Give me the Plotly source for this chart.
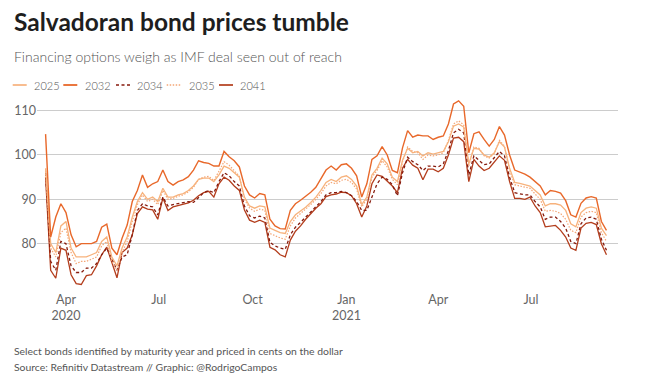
import plotly.graph_objects as go
import pandas as pd

# ---- data (cents on the dollar), sampled every 5 days from 2020-03-12 ----
start_date = "2020-03-12"
step = "5D"

b2032 = [104.7, 81.5, 86, 89, 87, 82, 79.3, 80, 80, 80, 80.5, 83.7, 84.4, 79, 77.5, 81.2, 84.2, 89.5, 92, 95.5,
         92.7, 93.5, 94, 96.6, 94, 93.2, 94, 94.4, 95.1, 96.6, 98.7, 98.3, 98.1, 97.5, 97.5, 100.8, 99.6, 98.7, 97.3, 93,
         91, 90.3, 91.3, 91, 85.5, 84, 83.4, 83.3, 87.5, 89, 89.8, 90.6, 91.6, 92.7, 94.5, 96.6, 97.5, 96.6, 97.8, 98,
         97, 95.3, 90.5, 93.5, 99, 99.8, 101.9, 100, 96.5, 96, 101.6, 105.5, 104, 104.5, 104.3, 104.3, 103.5, 104, 104.3, 107,
         111.5, 112.2, 111, 100.5, 104.8, 105.2, 103.5, 102, 103.5, 106.4, 104.5, 100, 96.6, 96.2, 95.7, 95, 94, 93, 91, 92,
         91.8, 91.4, 89.7, 86.5, 86, 89.1, 90.3, 90.6, 90.3, 85, 83]

b2041 = [95, 74, 72.2, 79, 78.5, 73, 71, 70.8, 72.8, 73, 75, 77.5, 79.2, 75.5, 72.3, 78, 79, 82, 86.8, 88.3,
         87.8, 87.6, 85.5, 90.3, 87.5, 88.3, 88.6, 88.8, 89.2, 89.8, 90.8, 91.5, 91.8, 90.5, 93.5, 95, 94.3, 93, 92, 87.6,
         85.3, 84.8, 85.3, 84.8, 79.2, 78.6, 77.5, 77, 80.8, 82.8, 84, 85.5, 86.8, 88, 89, 90.6, 91, 91.2, 91.6, 91.5,
         90.8, 89, 86, 88.5, 93.5, 95.5, 95.2, 94, 93, 91.5, 97, 99, 97.7, 97, 94.4, 96.8, 96.8, 96.2, 97, 100,
         103.8, 104, 103, 94, 99, 97.5, 96.5, 97, 98.5, 99.8, 98.8, 94, 90.2, 90.2, 90, 90.5, 88.5, 87, 83.8, 84,
         84.1, 83, 81.5, 79, 78.5, 83.5, 84.6, 84.8, 84.3, 80, 77.5]

b2025 = [97, 80, 78, 84, 85, 79, 77, 77, 77, 77.5, 78, 80.5, 81.5, 77, 75, 79, 81.5, 86, 89.5, 91.5,
         90, 90.5, 89.5, 92.5, 90.5, 90.5, 91, 91.3, 92, 93, 94.5, 94.8, 94.8, 94, 95.5, 97.5, 97, 96, 95, 90.5,
         88.5, 88, 88.5, 88.3, 83.5, 83, 82.5, 82.3, 85, 86.5, 87.3, 88.2, 89.3, 90.5, 92, 93.8, 94.5, 94, 95, 95.3,
         94.5, 93, 88.8, 90.5, 95.5, 97, 99.3, 98, 95, 94, 98.8, 101.5, 100.5, 100.8, 99.8, 100.5, 100.2, 100.5, 100.8, 103,
         106.5, 107, 106.3, 98, 101.5, 101.3, 100, 99.5, 100.5, 103, 101.8, 97, 93.8, 93.6, 93.3, 93, 92, 91, 88.5, 89,
         89, 88.7, 87.5, 84.5, 83.8, 87, 88, 88.3, 88, 83.5, 81.8]

b2035 = [96.5, 79, 77, 82.5, 83.5, 78, 75.5, 76, 76, 76.5, 77, 79.5, 80.5, 76, 74, 78, 80.5, 85, 88.8, 91,
         89.5, 90, 88.8, 92, 90, 90.2, 90.7, 91, 91.7, 92.7, 94.5, 95, 95.2, 94.2, 96.5, 98.5, 97.7, 96.5, 95.2, 90,
         88, 87.3, 87.8, 87.5, 82.3, 81.8, 81.3, 81, 84, 85.8, 86.8, 87.7, 88.8, 90, 91.3, 93, 93.8, 93.5, 94.3, 94.5,
         93.8, 92.3, 88.3, 90, 95, 96.5, 98.7, 97.3, 94.5, 93.3, 98.5, 101.8, 100.8, 100.5, 99, 100, 99.8, 100, 100.5, 103.3,
         107, 107.7, 106.8, 97.5, 101.8, 101.5, 99.8, 99.3, 100.3, 103.3, 102, 96.5, 93.3, 93, 92.8, 92.5, 91.2, 90, 87.3, 87.5,
         87.3, 86.8, 85.5, 83, 82.5, 86, 87, 87.3, 87, 82.5, 80.5]

b2034 = [96, 76, 74, 80.5, 80, 75, 73.5, 73.5, 74.5, 74.5, 75.5, 77.5, 79, 76.5, 74, 77, 77.5, 82, 87.5, 89,
         88.5, 88.3, 86.5, 90.5, 88.5, 88.8, 89, 89.2, 89.5, 89.3, 90.5, 91.5, 92, 91.5, 94, 96, 95.3, 94, 93, 88.5,
         86.3, 85.8, 86.2, 85.8, 80.3, 79.5, 79, 78.7, 82, 83.7, 84.8, 86, 87.3, 88.5, 89.5, 91, 91.5, 91.5, 91.8, 91.5,
         90.8, 89.5, 87.5, 87.5, 90.5, 93.5, 95, 94.5, 93.3, 90.8, 96, 99.5, 98.5, 97.8, 96.5, 97.5, 97.5, 97.3, 98, 101,
         105, 105.8, 105, 95.5, 99.8, 98.8, 97.8, 98, 99.3, 100.8, 99.8, 95, 91.5, 91.3, 91, 91, 89.5, 88.3, 85.5, 86,
         86, 85, 83.5, 80.5, 80, 84.5, 85.8, 86, 85.5, 81, 78.5]

series_names = ["2025", "2032", "2034", "2035", "2041"]
tick_dates = ["2020-04-01", "2020-07-01", "2020-10-01", "2021-01-01", "2021-04-01", "2021-07-01"]
tick_text = ["Apr<br>2020", "Jul", "Oct", "Jan<br>2021", "Apr", "Jul"]
y_ticks = [80, 90, 100, 110]

dates = pd.date_range(start_date, periods=len(b2032), freq=step)

styles = {
    "2025": dict(color="#f7b27c", width=1.3, dash="solid"),
    "2032": dict(color="#e8682a", width=1.4, dash="solid"),
    "2034": dict(color="#861a0c", width=1.3, dash="3px,2.5px"),
    "2035": dict(color="#f4a676", width=1.2, dash="1.5px,1.5px"),
    "2041": dict(color="#b33d1c", width=1.3, dash="solid"),
}
values = {"2025": b2025, "2032": b2032, "2034": b2034, "2035": b2035, "2041": b2041}

W, H = 651, 388
ML, MR, MT, MB = 37, 33, 100, 100
PW, PH = W - ML - MR, H - MT - MB


def fx(x):
    return (x - ML) / PW


def fy(y):
    return (H - MB - y) / PH


fig = go.Figure()
for name in ["2041", "2034", "2035", "2025", "2032"]:
    fig.add_trace(go.Scatter(x=dates, y=values[name], mode="lines", name=name,
                             line=styles[name], showlegend=False, hoverinfo="skip"))

FONT = "Lato"
annotations = [
    dict(text="<b>Salvadoran bond prices tumble</b>", x=fx(12), y=fy(21), xanchor="left", yanchor="middle",
         font=dict(family=FONT, size=24.5, color="#1e1e1e")),
    dict(text="Financing options weigh as IMF deal seen out of reach", x=fx(12), y=fy(57), xanchor="left",
         yanchor="middle", font=dict(family=FONT, size=14, color="#555555", weight=300)),
    dict(text="Select bonds identified by maturity year and priced in cents on the dollar", x=fx(12), y=fy(351),
         xanchor="left", yanchor="middle", font=dict(family=FONT, size=10.4, color="#555555")),
    dict(text="Source: Refinitiv Datastream // Graphic: @RodrigoCampos", x=fx(12), y=fy(366.5),
         xanchor="left", yanchor="middle", font=dict(family=FONT, size=10.4, color="#555555")),
]

# compact legend (keys + labels) placed like the reference header
leg_line_x = [12.7, 63.3, 116, 166.7, 219]
leg_text_x = [31.5, 82.5, 135, 186.5, 238.3]
leg_y = 85
shapes = []
for name, lx, tx in zip(series_names, leg_line_x, leg_text_x):
    st = styles[name]
    shapes.append(dict(type="line", xref="paper", yref="paper", x0=fx(lx), x1=fx(lx + 14), y0=fy(leg_y), y1=fy(leg_y),
                       line=dict(color=st["color"], width=st["width"] + 0.4, dash=st["dash"])))
    annotations.append(dict(text=name, x=fx(tx), y=fy(leg_y), xanchor="left", yanchor="middle",
                            font=dict(family=FONT, size=11, color="#555555", weight=300)))

for a in annotations:
    a.update(xref="paper", yref="paper", showarrow=False)

fig.update_layout(
    width=W, height=H,
    margin=dict(l=ML, r=MR, t=MT, b=MB),
    paper_bgcolor="white", plot_bgcolor="white",
    annotations=annotations, shapes=shapes,
    showlegend=False,
    font=dict(family=FONT),
)
fig.update_xaxes(range=["2020-03-03 14:00", "2021-09-24 07:00"], tickvals=tick_dates, ticktext=tick_text,
                 showgrid=False, zeroline=False, showline=False, ticks="", ticklabelstandoff=2,
                 tickfont=dict(family=FONT, size=12.5, color="#666666"))
fig.update_yaxes(range=[70, 112.4], tickvals=y_ticks, showgrid=True, gridcolor="#cccccc", gridwidth=1,
                 zeroline=False, showline=False, ticks="",
                 tickfont=dict(family=FONT, size=12.5, color="#666666"))

fig.write_html("out.html", config={"displayModeBar": False},
               post_script="document.body.style.margin='0px';")
